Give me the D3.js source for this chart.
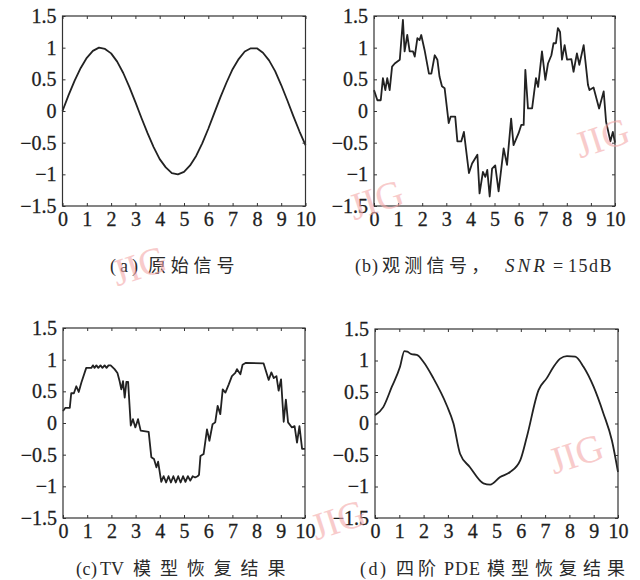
<!DOCTYPE html>
<html>
<head>
<meta charset="utf-8">
<script src="https://cdn.jsdelivr.net/npm/d3@7"></script>
<style>
  body { margin: 0; background: #fff; }
  svg { display: block; }
  .tick line { stroke: #333; }
  .caption { font-size: 18px; fill: #2a2a2a; }
  .mark { font-family: 'Liberation Serif', 'Times New Roman', serif; font-size: 38px; fill: #f4a9a9; opacity: 0.6; }
</style>
</head>
<body>
<div id="chart"></div>
<script>
// tick values shared by all four panels
const xTicks = [0, 1, 2, 3, 4, 5, 6, 7, 8, 9, 10];
const yTicks = [-1.5, -1, -0.5, 0, 0.5, 1, 1.5];

// (a) original signal
const original = [
  [0, 0], [0.25, 0.25], [0.5, 0.48], [0.75, 0.68], [1, 0.84], [1.25, 0.95], [1.5, 1.0], [1.75, 0.98],
  [2, 0.91], [2.25, 0.78], [2.5, 0.6], [2.75, 0.38], [3, 0.14], [3.25, -0.11], [3.5, -0.35], [3.75, -0.57],
  [4, -0.76], [4.25, -0.89], [4.5, -0.98], [4.75, -1.0], [5, -0.96], [5.25, -0.86], [5.5, -0.71], [5.75, -0.51],
  [6, -0.28], [6.25, -0.03], [6.5, 0.22], [6.75, 0.45], [7, 0.66], [7.25, 0.82], [7.5, 0.94], [7.75, 0.99],
  [8, 0.99], [8.25, 0.92], [8.5, 0.8], [8.75, 0.63], [9, 0.41], [9.25, 0.17], [9.5, -0.08], [9.75, -0.32], [10, -0.54]
];

// (b) observed noisy signal
const noisy = [
  [0, 0.33], [0.14, 0.17], [0.28, 0.17], [0.37, 0.52], [0.47, 0.33], [0.55, 0.52], [0.65, 0.33], [0.75, 0.7],
  [0.86, 0.75], [1.07, 0.81], [1.2, 1.44], [1.27, 0.94], [1.38, 1.2], [1.48, 0.94], [1.62, 0.94], [1.69, 0.86],
  [1.8, 1.15], [1.89, 1.12], [1.96, 1.2], [2.1, 0.96], [2.28, 0.59], [2.38, 0.59], [2.52, 0.88], [2.63, 0.81],
  [2.72, 0.54], [2.82, 0.39], [2.93, 0.36], [3.1, -0.19], [3.18, -0.09], [3.37, -0.09], [3.46, -0.48], [3.62, -0.48],
  [3.73, -0.33], [3.94, -0.98], [4.07, -0.83], [4.29, -0.69], [4.38, -1.3], [4.52, -0.96], [4.62, -1.04], [4.7, -0.93],
  [4.8, -1.35], [4.9, -0.91], [5.03, -0.86], [5.17, -1.27], [5.38, -0.59], [5.52, -0.85], [5.69, -0.12], [5.79, -0.54],
  [6.0, -0.35], [6.11, -0.22], [6.21, -0.22], [6.28, 0.65], [6.39, 0.04], [6.56, 0.04], [6.72, 0.52], [6.81, 0.38],
  [6.97, 0.94], [7.11, 0.49], [7.22, 0.75], [7.36, 0.88], [7.45, 1.07], [7.55, 1.07], [7.63, 1.31], [7.72, 1.25],
  [7.8, 0.81], [7.91, 1.04], [8.01, 0.81], [8.19, 0.82], [8.28, 0.62], [8.42, 0.91], [8.52, 0.73], [8.7, 1.04],
  [8.88, 0.41], [8.94, 0.33], [9.11, 0.37], [9.34, 0.04], [9.53, 0.31], [9.63, -0.17], [9.81, -0.48], [9.91, -0.33], [10, -0.5]
];

// (c) TV model result
const tvResult = [
  [0, 0.19], [0.1, 0.24], [0.28, 0.24], [0.34, 0.47], [0.45, 0.47], [0.55, 0.58], [0.65, 0.49], [0.76, 0.64],
  [0.96, 0.87], [1.17, 0.87], [1.24, 0.91], [1.3, 0.87], [1.38, 0.91], [1.46, 0.87], [1.55, 0.91], [1.63, 0.87],
  [1.72, 0.91], [1.8, 0.87], [1.88, 0.91], [1.97, 0.91], [2.13, 0.85], [2.25, 0.79], [2.34, 0.66], [2.41, 0.53],
  [2.48, 0.66], [2.55, 0.4], [2.62, 0.65], [2.69, 0.65], [2.8, -0.04], [2.89, 0.06], [2.99, -0.07], [3.1, 0.06],
  [3.21, -0.12], [3.54, -0.14], [3.65, -0.54], [3.76, -0.57], [3.86, -0.7], [3.93, -0.61], [4.06, -0.93], [4.16, -0.84],
  [4.26, -0.94], [4.36, -0.84], [4.46, -0.94], [4.56, -0.84], [4.66, -0.94], [4.76, -0.84], [4.86, -0.94], [4.96, -0.84],
  [5.06, -0.93], [5.16, -0.84], [5.26, -0.91], [5.36, -0.84], [5.46, -0.86], [5.56, -0.84], [5.62, -0.82], [5.68, -0.52],
  [5.81, -0.49], [5.95, -0.1], [6.05, -0.28], [6.18, -0.02], [6.29, 0.01], [6.39, 0.27], [6.5, 0.14], [6.6, 0.53],
  [6.71, 0.48], [6.85, 0.61], [6.98, 0.74], [7.12, 0.79], [7.19, 0.85], [7.33, 0.77], [7.42, 0.92], [7.56, 0.95],
  [8.29, 0.94], [8.5, 0.68], [8.61, 0.8], [8.71, 0.71], [8.82, 0.74], [8.91, 0.51], [9.01, 0.69], [9.12, 0.02],
  [9.21, 0.37], [9.3, 0.01], [9.46, -0.07], [9.57, -0.05], [9.67, -0.31], [9.77, -0.05], [9.88, -0.41], [10, -0.41]
];

// (d) fourth-order PDE model result
const pdeResult = [
  [0, 0.13], [0.34, 0.26], [0.69, 0.58], [1.03, 0.9], [1.21, 1.15], [1.33, 1.14], [1.5, 1.1], [1.72, 1.09],
  [1.99, 0.98], [2.4, 0.72], [2.95, 0.29], [3.23, 0], [3.5, -0.48], [3.9, -0.69], [4.46, -0.95], [4.74, -0.97],
  [5.15, -0.85], [5.56, -0.77], [5.98, -0.58], [6.25, -0.21], [6.73, 0.53], [7.07, 0.72], [7.35, 0.9], [7.62, 1.03],
  [7.9, 1.07], [8.24, 1.06], [8.58, 0.9], [9.0, 0.58], [9.4, 0.16], [9.75, -0.27], [10, -0.77]
];

const width = 640;
const height = 580;
const serif = "'Liberation Serif', 'Times New Roman', serif";
const cjk = "'Noto Sans CJK SC', sans-serif";

const svg = d3.select('#chart')
  .append('svg')
  .attr('width', width)
  .attr('height', height);

// frame of each panel in pixels
const panels = [
  { data: original, curve: d3.curveLinear, left: 62.5, right: 305.5, top: 16, bottom: 206 },
  { data: noisy, curve: d3.curveLinear, left: 374, right: 615, top: 16, bottom: 206 },
  { data: tvResult, curve: d3.curveLinear, left: 63, right: 305, top: 328, bottom: 518 },
  { data: pdeResult, curve: d3.curveMonotoneX, left: 375, right: 618, top: 329, bottom: 518 },
];

function styleAxis(a) {
  a.select('.domain').remove();
  a.attr('font-family', serif).attr('font-size', 20);
  a.selectAll('text')
    .attr('fill', '#1e1e1e')
    .attr('stroke', '#1e1e1e')
    .attr('stroke-width', 0.3);
}

panels.forEach((p) => {
  const x = d3.scaleLinear().domain([0, 10]).range([p.left, p.right]);
  const y = d3.scaleLinear().domain([-1.5, 1.5]).range([p.bottom, p.top]);
  const g = svg.append('g');

  const line = d3.line()
    .x((d) => x(d[0]))
    .y((d) => y(d[1]))
    .curve(p.curve);

  g.append('path')
    .datum(p.data)
    .attr('d', line)
    .attr('fill', 'none')
    .attr('stroke', '#222')
    .attr('stroke-width', 1.8)
    .attr('stroke-linejoin', 'round');

  // inward ticks on all four sides, like a boxed matlab axis
  g.append('g')
    .attr('transform', `translate(0, ${p.bottom})`)
    .call(d3.axisBottom(x).tickValues(xTicks).tickSize(-3).tickPadding(6).tickFormat(d3.format('d')))
    .call(styleAxis);

  g.append('g')
    .attr('transform', `translate(${p.left}, 0)`)
    .call(d3.axisLeft(y).tickValues(yTicks).tickSize(-3).tickPadding(6).tickFormat(d3.format('~g')))
    .call(styleAxis);

  g.append('g')
    .attr('transform', `translate(0, ${p.top})`)
    .call(d3.axisTop(x).tickValues(xTicks).tickSize(-3).tickFormat(''))
    .call(styleAxis);

  g.append('g')
    .attr('transform', `translate(${p.right}, 0)`)
    .call(d3.axisRight(y).tickValues(yTicks).tickSize(-3).tickFormat(''))
    .call(styleAxis);

  g.append('rect')
    .attr('x', p.left)
    .attr('y', p.top)
    .attr('width', p.right - p.left)
    .attr('height', p.bottom - p.top)
    .attr('fill', 'none')
    .attr('stroke', '#333')
    .attr('stroke-width', 1.2);
});

// captions: each piece gets its own start x, font and spacing
function caption(yPos, parts) {
  const t = svg.append('text').attr('class', 'caption').attr('y', yPos);
  parts.forEach((s) => {
    t.append('tspan')
      .attr('x', s.x)
      .attr('font-family', s.zh ? cjk : serif)
      .attr('font-style', s.italic ? 'italic' : null)
      .attr('font-size', s.size || null)
      .attr('letter-spacing', s.ls || 0)
      .text(s.text);
  });
}

caption(272, [
  { text: '(a)', x: 110, ls: 4 },
  { text: '原始信号', x: 148, zh: true, ls: 4.8 },
]);
caption(272, [
  { text: '(b)', x: 355, ls: 1 },
  { text: '观测信号，', x: 382, zh: true, ls: 4.3 },
  { text: 'SNR', x: 505, italic: true, size: 19, ls: 3 },
  { text: '=', x: 553 },
  { text: '15dB', x: 568, ls: 1.5 },
]);
caption(575, [
  { text: '(c)', x: 76, ls: 0.5 },
  { text: 'TV', x: 100 },
  { text: '模型恢复结果', x: 133, zh: true, ls: 8.9 },
]);
caption(575, [
  { text: '(d)', x: 360, ls: 2.5 },
  { text: '四阶', x: 396, zh: true, ls: 4 },
  { text: 'PDE', x: 444, ls: 1 },
  { text: '模型恢复结果', x: 487, zh: true, ls: 6 },
]);

// journal watermark
[[143, 278], [380, 212], [606, 150], [342, 532], [580, 466]].forEach(([mx, my]) => {
  svg.append('text')
    .attr('class', 'mark')
    .attr('text-anchor', 'middle')
    .attr('transform', `translate(${mx}, ${my}) rotate(-18)`)
    .text('JIG');
});
</script>
</body>
</html>
